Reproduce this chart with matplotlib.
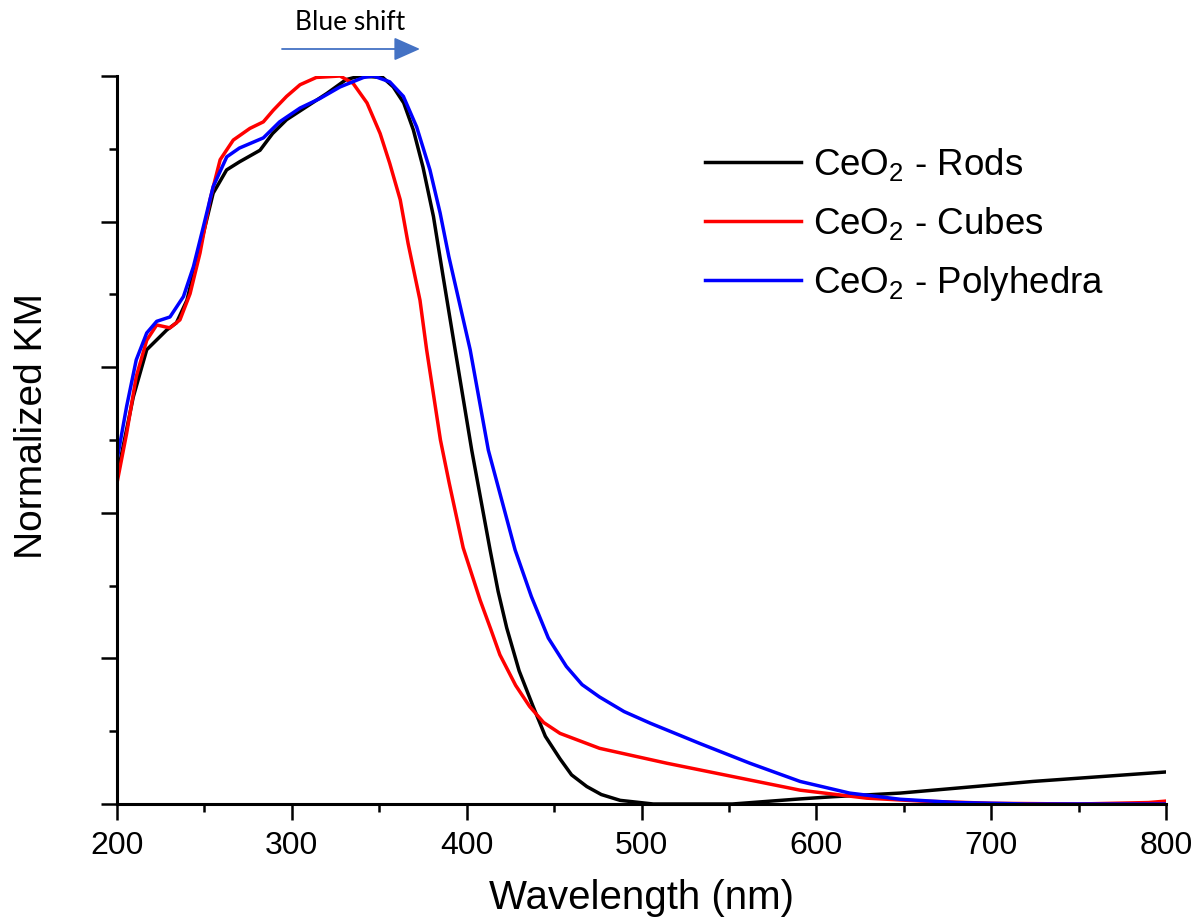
import matplotlib
matplotlib.use("Agg")
import matplotlib.pyplot as plt
from matplotlib.ticker import MultipleLocator

plt.rcParams["font.family"] = "Liberation Sans"
plt.rcParams["mathtext.fontset"] = "custom"
plt.rcParams["mathtext.rm"] = "Liberation Sans"
plt.rcParams["mathtext.it"] = "Liberation Sans:italic"

# CeO2 - Rods
rods_wl = [200, 209.3, 217, 228.4, 234, 240, 247.5, 255, 262.7, 270, 281.8, 289, 297,
           308.5, 320, 331, 339, 352, 358, 364, 369.5, 375, 381, 386.5, 393.4, 402.9,
           413.4, 418, 422.9, 430, 438, 445, 453.4, 460, 468.7, 477, 487.8, 506.7, 552,
           590.7, 609.6, 648, 724, 800]
rods_km = [0.45, 0.559, 0.624, 0.651, 0.661, 0.692, 0.765, 0.839, 0.871, 0.882, 0.898,
           0.921, 0.940, 0.958, 0.976, 0.995, 1.0, 0.998, 0.985, 0.963, 0.926, 0.875,
           0.807, 0.725, 0.624, 0.486, 0.349, 0.292, 0.242, 0.183, 0.134, 0.093, 0.062,
           0.040, 0.024, 0.013, 0.005, 0.0, 0.0, 0.007, 0.010, 0.015, 0.031, 0.044]

# CeO2 - Cubes
cubes_wl = [200, 205.5, 211, 217, 222.7, 230.3, 236, 241.8, 247.5, 253.2, 259, 266.5,
            276, 283.7, 289.4, 297, 304.7, 314, 327.6, 335, 343, 350.5, 356, 362, 366.5,
            373.3, 377.1, 385, 390, 398, 407.7, 413.8, 419, 428, 436, 444, 453.4, 476,
            514.5, 552.6, 590.7, 628.9, 660, 700, 750, 790, 800]
cubes_km = [0.441, 0.509, 0.587, 0.637, 0.658, 0.654, 0.665, 0.701, 0.757, 0.830, 0.885,
            0.912, 0.928, 0.937, 0.953, 0.972, 0.988, 0.998, 1.0, 0.990, 0.963, 0.921,
            0.880, 0.830, 0.77, 0.692, 0.624, 0.5, 0.441, 0.352, 0.280, 0.240, 0.205,
            0.163, 0.134, 0.112, 0.097, 0.0765, 0.056, 0.0375, 0.019, 0.008, 0.004,
            0.001, 0.0, 0.002, 0.004]

# CeO2 - Polyhedra
poly_wl = [200, 205.5, 211, 217, 222.7, 230.3, 238, 243.7, 249.4, 255, 262.8, 270,
           283.7, 293, 304.7, 316, 327.6, 341, 346.7, 356, 363.8, 371.4, 379, 384.8,
           389.8, 402, 412.4, 427.7, 437, 446.7, 457, 466, 476, 490, 505, 533.5, 562,
           590.7, 619, 648, 680, 720, 800]
poly_km = [0.4725, 0.546, 0.610, 0.647, 0.663, 0.669, 0.697, 0.738, 0.793, 0.848, 0.889,
           0.901, 0.915, 0.937, 0.956, 0.969, 0.985, 0.998, 1.0, 0.992, 0.972, 0.930,
           0.871, 0.812, 0.752, 0.624, 0.486, 0.349, 0.285, 0.228, 0.189, 0.164, 0.147,
           0.127, 0.111, 0.083, 0.056, 0.031, 0.015, 0.0065, 0.002, 0.0, 0.0]

fig = plt.figure(figsize=(12.01, 9.24), dpi=100)
ax = fig.add_axes([117 / 1201, 1 - 804 / 924, 1049 / 1201, 728 / 924])

lw = 2.5
ax.plot(rods_wl, rods_km, color="black", lw=lw, label=r"CeO$_2$ - Rods")
ax.plot(cubes_wl, cubes_km, color="#ff0000", lw=lw, label=r"CeO$_2$ - Cubes")
ax.plot(poly_wl, poly_km, color="#0000ff", lw=lw, label=r"CeO$_2$ - Polyhedra")

ax.set_xlim(200, 800)
ax.set_ylim(0, 1)
for side in ["top", "right"]:
    ax.spines[side].set_visible(False)
for side in ["left", "bottom"]:
    ax.spines[side].set_linewidth(2.2)

ax.xaxis.set_major_locator(MultipleLocator(100))
ax.xaxis.set_minor_locator(MultipleLocator(50))
ax.yaxis.set_major_locator(MultipleLocator(0.2))
ax.yaxis.set_minor_locator(MultipleLocator(0.1))
ax.tick_params(which="major", length=11.5, width=1.8, direction="out", labelsize=23, pad=8)
ax.tick_params(which="minor", length=5.8, width=1.8, direction="out")
ax.tick_params(axis="y", which="both", labelleft=False)

ax.set_xlabel("Wavelength (nm)", fontsize=29)
ax.xaxis.set_label_coords(0.5, -0.103)
ax.xaxis.label.set_va("top")
ax.set_ylabel("Normalized KM", fontsize=28)
ax.yaxis.set_label_coords(-0.064, 0.519)

leg = ax.legend(loc="upper left", bbox_to_anchor=(705 / 1201, 1 - 146 / 924),
                bbox_transform=fig.transFigure, frameon=False, fontsize=26.5,
                handlelength=2.6, handletextpad=0.33, labelspacing=0.6,
                borderpad=0, borderaxespad=0)

fig.text(350 / 1201, 1 - 22 / 924, "Blue shift", fontsize=19, family="Lato",
         ha="center", va="center")
ax.annotate("", xy=(420, 924 - 49), xytext=(282, 924 - 49),
            xycoords="figure pixels", textcoords="figure pixels",
            arrowprops=dict(arrowstyle="-|>,head_length=0.9,head_width=0.4",
                            color="#4472C4", lw=1.3, mutation_scale=18,
                            shrinkA=0, shrinkB=0))

fig.savefig("out.png", dpi=100)
